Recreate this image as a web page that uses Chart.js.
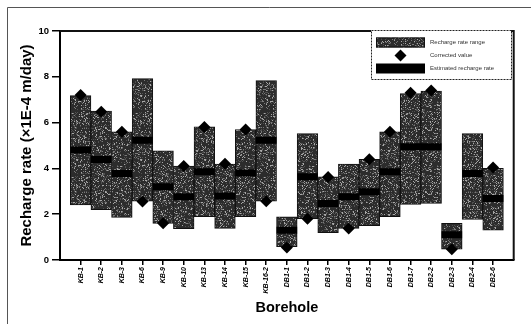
<!DOCTYPE html>
<html lang="en">
<head>
<meta charset="UTF-8" />
<title>Recharge rate by borehole</title>
<style>
  html, body { margin: 0; padding: 0; background: #fff; }
  #wrap { width: 531px; height: 324px; position: relative; }
</style>
</head>
<body>
<div id="wrap"><canvas id="myChart"></canvas></div>
<script src="https://cdn.jsdelivr.net/npm/chart.js/dist/chart.umd.min.js"></script>
<script>
  // values (x1E-4 m/day)
  const boreholes = ['KB-1','KB-2','KB-3','KB-6','KB-9','KB-10','KB-13','KB-14','KB-15','KB-16-2',
                     'DB1-1','DB1-2','DB1-3','DB1-4','DB1-5','DB1-6','DB1-7','DB2-2','DB2-3','DB2-4','DB2-6'];
  const rangeLow  = [2.4, 2.2, 1.86, 2.57, 1.6, 1.37, 1.89, 1.38, 1.89, 2.57,
                     0.58, 1.8, 1.19, 1.38, 1.5, 1.89, 2.43, 2.47, 0.47, 1.77, 1.3];
  const rangeHigh = [7.18, 6.5, 5.6, 7.92, 4.77, 4.1, 5.81, 4.19, 5.7, 7.83,
                     1.89, 5.52, 3.63, 4.19, 4.4, 5.6, 7.27, 7.38, 1.6, 5.52, 4.0];
  const corrected = [7.2, 6.47, 5.6, 2.55, 1.6, 4.1, 5.81, 4.2, 5.7, 2.57,
                     0.55, 1.8, 3.62, 1.38, 4.4, 5.6, 7.3, 7.4, 0.47, null, 4.04];
  const estimated = [4.8, 4.39, 3.78, 5.23, 3.2, 2.76, 3.85, 2.79, 3.8, 5.23,
                     1.3, 3.63, 2.47, 2.76, 2.98, 3.85, 4.94, 4.94, 1.1, 3.78, 2.69];
  const yTicks = [0, 2, 4, 6, 8, 10];

  const FONT = "'Liberation Sans', Arial, sans-serif";
  Chart.defaults.font.family = FONT;
  Chart.defaults.color = '#000';

  // empty slot at each end so the first/last borehole sit one step inside the frame
  const labels = [''].concat(boreholes, ['']);
  const pad = arr => [null].concat(arr, [null]);
  const ranges = pad(boreholes.map((b, i) => [rangeLow[i], rangeHigh[i]]));

  const canvas = document.getElementById('myChart');
  const ctx = canvas.getContext('2d');

  // speckled grey fill like the scanned bars (fixed hash, no randomness)
  function hash(i, j) {
    let h = Math.imul(i, 374761393) + Math.imul(j, 668265263);
    h = Math.imul(h ^ (h >>> 13), 1274126177);
    h ^= h >>> 16;
    return (h >>> 0) % 100;
  }
  function speckle() {
    const c = document.createElement('canvas');
    c.width = 64; c.height = 64;
    const g = c.getContext('2d');
    g.fillStyle = '#2c2c2c';
    g.fillRect(0, 0, c.width, c.height);
    for (let i = 0; i < c.width; i++) {
      for (let j = 0; j < c.height; j++) {
        const h = hash(i, j);
        if (h < 28) {
          g.fillStyle = h < 8 ? '#a8a8a8' : (h < 16 ? '#7a7a7a' : '#505050');
          g.fillRect(i, j, 1, 1);
        }
      }
    }
    return ctx.createPattern(c, 'repeat');
  }
  const barFill = speckle();

  const framePlugin = {
    id: 'frame',
    beforeDraw(chart) {
      const c = chart.ctx;
      c.save();
      c.strokeStyle = '#555';
      c.lineWidth = 1;
      c.beginPath();
      c.moveTo(7.5, 324);
      c.lineTo(7.5, 7.5);
      c.lineTo(531, 7.5);
      c.stroke();
      c.restore();
    },
    afterDraw(chart) {
      const c = chart.ctx;
      const a = chart.chartArea;
      c.save();
      c.strokeStyle = '#111';
      c.lineWidth = 2;
      c.beginPath();
      c.moveTo(a.left, a.top);
      c.lineTo(a.right, a.top);
      c.lineTo(a.right, a.bottom);
      c.stroke();

      // legend box
      const lx = 371, ly = 30, lw = 140, lh = 49;
      c.fillStyle = '#fff';
      c.fillRect(lx, ly, lw, lh);
      c.setLineDash([2, 1]);
      c.lineWidth = 1;
      c.strokeStyle = '#222';
      c.strokeRect(lx + 0.5, ly + 0.5, lw, lh);
      c.setLineDash([]);

      const sx = 376, sw = 49, sh = 10;
      const rows = [42.5, 55.5, 68.5];
      c.fillStyle = barFill;
      c.fillRect(sx, rows[0] - sh / 2, sw, sh);
      c.strokeStyle = '#111';
      c.strokeRect(sx + 0.5, rows[0] - sh / 2 + 0.5, sw - 1, sh - 1);

      c.fillStyle = '#000';
      c.beginPath();
      const dx = sx + sw / 2, dy = rows[1], r = 6;
      c.moveTo(dx, dy - r);
      c.lineTo(dx + r, dy);
      c.lineTo(dx, dy + r);
      c.lineTo(dx - r, dy);
      c.closePath();
      c.fill();

      c.fillRect(sx, rows[2] - sh / 2, sw, sh);

      c.fillStyle = '#333';
      c.font = '6px ' + FONT;
      c.textBaseline = 'middle';
      c.textAlign = 'left';
      ['Recharge rate range', 'Corrected value', 'Estimated recharge rate'].forEach((t, i) => {
        c.fillText(t, 430, rows[i]);
      });
      c.restore();
    }
  };

  const data = {
    labels: labels,
    datasets: [
      {
        type: 'line',
        label: 'Corrected value',
        data: pad(corrected),
        showLine: false,
        pointStyle: 'rectRot',
        pointRadius: 6,
        pointBackgroundColor: '#000',
        pointBorderColor: '#000',
        pointBorderWidth: 0,
        order: 1
      },
      {
        type: 'line',
        label: 'Estimated recharge rate',
        data: pad(estimated),
        showLine: false,
        pointStyle: 'line',
        pointRadius: 10.3,
        pointBorderColor: '#000',
        pointBorderWidth: 7,
        order: 2
      },
      {
        type: 'bar',
        label: 'Recharge rate range',
        data: ranges,
        backgroundColor: barFill,
        borderColor: '#111',
        borderWidth: 1,
        borderSkipped: false,
        barPercentage: 1,
        categoryPercentage: 1,
        order: 3
      }
    ]
  };

  const config = {
    type: 'bar',
    data,
    options: {
      responsive: true,
      maintainAspectRatio: false,
      animation: false,
      layout: { padding: { left: 0, right: 16, top: 31, bottom: 0 } },
      plugins: {
        legend: { display: false },
        tooltip: { enabled: false }
      },
      scales: {
        x: {
          type: 'category',
          offset: false,
          grid: {
            offset: false,
            drawOnChartArea: false,
            tickLength: 5,
            lineWidth: 1.5,
            tickColor: c => (c.index === 0 || c.index === labels.length - 1) ? 'rgba(0,0,0,0)' : '#000'
          },
          border: { color: '#000', width: 2 },
          ticks: {
            autoSkip: false,
            minRotation: 90,
            maxRotation: 90,
            padding: 2,
            font: { size: 7, style: 'italic', weight: 'bold' }
          },
          title: {
            display: true,
            text: 'Borehole',
            font: { size: 14.5, weight: 'bold' },
            padding: { top: 0, bottom: 7 }
          },
          afterFit: s => { s.height = 64; }
        },
        y: {
          min: 0,
          max: 10,
          afterBuildTicks: s => { s.ticks = yTicks.map(v => ({ value: v })); },
          grid: { drawOnChartArea: false, tickLength: 8, lineWidth: 1.5, tickColor: '#000' },
          border: { color: '#000', width: 2 },
          ticks: { padding: 3, font: { size: 9.5, weight: 'bold' } },
          title: {
            display: true,
            text: 'Recharge rate (\u00d71E-4 m/day)',
            font: { size: 15, weight: 'bold' },
            padding: { top: 18, bottom: 0 }
          },
          afterFit: s => { s.width = 60; }
        }
      }
    },
    plugins: [framePlugin]
  };

  const myChart = new Chart(canvas, config);
</script>
</body>
</html>
